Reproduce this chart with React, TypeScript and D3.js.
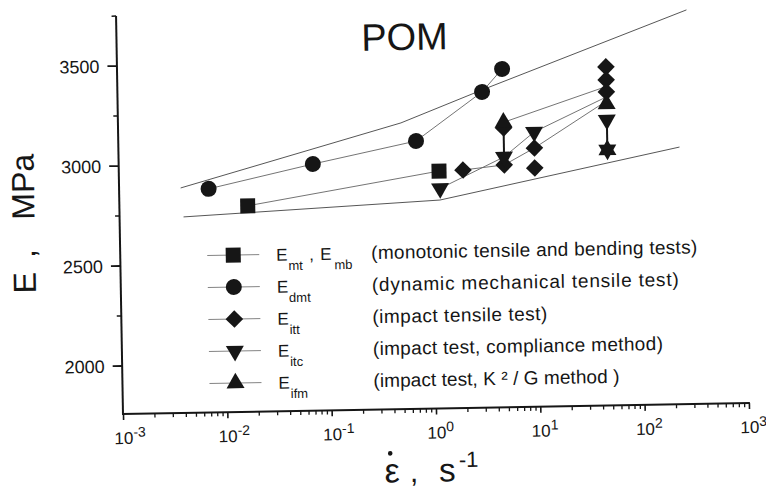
import React from 'react';
import * as d3 from 'd3';

type Pt = { x: number; e: number };

// ---- axis data ----
const yMajorTicks = [2000, 2500, 3000, 3500];
const yMinorTicks = [2250, 2750, 3250, 3750];
const xDecadeExponents = [-3, -2, -1, 0, 1, 2, 3];
const xMinorMultipliers = [2, 3, 4, 5, 6, 7, 8, 9];

// ---- series points (strain rate s^-1, modulus MPa) ----
const squarePts: Pt[] = [
  { x: 0.0168, e: 2790 },
  { x: 1.16, e: 2947 },
];
const circlePts: Pt[] = [
  { x: 0.00713, e: 2878 },
  { x: 0.0718, e: 2993 },
  { x: 0.706, e: 3099 },
  { x: 3.09, e: 3339 },
  { x: 4.85, e: 3452 },
];
const diamondPts: Pt[] = [
  { x: 1.97, e: 2950 },
  { x: 4.9, e: 3157 },
  { x: 4.9, e: 2972 },
  { x: 9.6, e: 3054 },
  { x: 9.6, e: 2954 },
  { x: 48, e: 3453 },
  { x: 48, e: 3388 },
  { x: 48, e: 3328 },
];
const downTriPts: Pt[] = [
  { x: 1.18, e: 2860 },
  { x: 4.9, e: 3012 },
  { x: 9.6, e: 3134 },
  { x: 48, e: 3188 },
  { x: 48, e: 3038 },
];
const upTriPts: Pt[] = [
  { x: 4.9, e: 3185 },
  { x: 48, e: 3268 },
  { x: 48, e: 3038 },
];

// ---- connecting lines ----
const squareLine: Pt[] = squarePts;
const circleLine: Pt[] = circlePts;
const diamondLine: Pt[] = [
  { x: 1.97, e: 2950 },
  { x: 4.9, e: 2972 },
  { x: 9.6, e: 3054 },
  { x: 48, e: 3283 },
];
const downTriLine: Pt[] = [
  { x: 1.18, e: 2860 },
  { x: 4.9, e: 3012 },
  { x: 9.6, e: 3134 },
  { x: 48, e: 3303 },
];
const upTriLine: Pt[] = [
  { x: 4.9, e: 3185 },
  { x: 48, e: 3355 },
];
const upperEnvelope: Pt[] = [
  { x: 0.00385, e: 2885 },
  { x: 0.51, e: 3191 },
  { x: 3.1, e: 3349 },
  { x: 290, e: 3731 },
];
const lowerEnvelope: Pt[] = [
  { x: 0.00406, e: 2740 },
  { x: 1.17, e: 2802 },
  { x: 236, e: 3046 },
];
const rangeBars = [
  { x: 4.9, lo: 3012, hi: 3185 },
  { x: 48, lo: 3038, hi: 3188 },
];

// ---- legend ----
const legendSymbols = ['square', 'circle', 'diamond', 'down', 'up'];
const legendSubs = ['mt', 'dmt', 'itt', 'itc', 'ifm'];
const legendDescs = [
  '(monotonic tensile and bending tests)',
  '(dynamic mechanical tensile test)',
  '(impact tensile test)',
  '(impact test, compliance method)',
  '(impact test, K \u00B2 / G method )',
];
const legendDescWidths = [326, 307, 175, 290, 246];

const FONT = "'Liberation Sans', Arial, Helvetica, sans-serif";
const INK = '#161616';

const X0 = 123.5, X1 = 749.5, Y0 = 414, Y1 = 16;

function symbolPath(kind: string): { d: string; rot: number } {
  switch (kind) {
    case 'square':
      return { d: d3.symbol().type(d3.symbolSquare).size(225)() as string, rot: 0 };
    case 'circle':
      return { d: d3.symbol().type(d3.symbolCircle).size(201)() as string, rot: 0 };
    case 'diamond':
      return { d: d3.symbol().type(d3.symbolSquare).size(155)() as string, rot: 45 };
    case 'down':
      return { d: d3.symbol().type(d3.symbolTriangle).size(140)() as string, rot: 180 };
    default:
      return { d: d3.symbol().type(d3.symbolTriangle).size(140)() as string, rot: 0 };
  }
}

function Marker({ kind, cx, cy }: { kind: string; cx: number; cy: number }) {
  const s = symbolPath(kind);
  return <path d={s.d} transform={`translate(${cx},${cy}) rotate(${s.rot})`} fill={INK} />;
}

export default function App() {
  const x = d3.scaleLog().domain([1e-3, 1e3]).range([X0, X1]);
  const y = d3.scaleLinear().domain([1760, 3750]).range([Y0, Y1]);
  const line = d3.line<Pt>().x((d) => x(d.x)).y((d) => y(d.e));

  const minorX: number[] = [];
  xDecadeExponents.slice(0, -1).forEach((p) =>
    xMinorMultipliers.forEach((m) => minorX.push(m * Math.pow(10, p)))
  );

  const series: { kind: string; pts: Pt[] }[] = [
    { kind: 'square', pts: squarePts },
    { kind: 'circle', pts: circlePts },
    { kind: 'diamond', pts: diamondPts },
    { kind: 'down', pts: downTriPts },
    { kind: 'up', pts: upTriPts },
  ];

  const legendX = 236;
  const legendY0 = 257;
  const legendDy = 32;

  return (
    <svg
      width={766}
      height={499}
      viewBox="0 0 766 499"
      style={{ position: 'absolute', left: 0, top: 0, background: '#fff' }}
      fontFamily={FONT}
    >
      <rect x={0} y={0} width={766} height={499} fill="#fff" />
      <g transform={`rotate(-1, ${X0 - 0.5}, ${Y0})`}>
        {/* title */}
        <text x={411} y={55} fontSize={38} textAnchor="middle" fill={INK}>
          POM
        </text>

        {/* envelope & series lines */}
        {[upperEnvelope, lowerEnvelope].map((pts, i) => (
          <path key={'env' + i} d={line(pts) as string} fill="none" stroke="#444" strokeWidth={0.9} />
        ))}
        {[squareLine, circleLine, diamondLine, downTriLine, upTriLine].map((pts, i) => (
          <path key={'sl' + i} d={line(pts) as string} fill="none" stroke="#666" strokeWidth={0.9} />
        ))}

        {/* range bars */}
        {rangeBars.map((r, i) => (
          <line key={'rb' + i} x1={x(r.x)} x2={x(r.x)} y1={y(r.lo)} y2={y(r.hi)} stroke={INK} strokeWidth={2} />
        ))}

        {/* markers */}
        {series.map((s) =>
          s.pts.map((p, i) => <Marker key={s.kind + i} kind={s.kind} cx={x(p.x)} cy={y(p.e)} />)
        )}

        {/* y axis */}
        <line x1={X0 - 0.5} x2={X0 - 0.5} y1={Y1} y2={Y0 + 1} stroke={INK} strokeWidth={2} />
        {yMajorTicks.map((t) => (
          <g key={'ym' + t}>
            <line x1={X0 - 10} x2={X0 - 0.5} y1={y(t)} y2={y(t)} stroke={INK} strokeWidth={1.8} />
            <text x={X0 - 18} y={y(t) + 6.5} fontSize={18} textAnchor="end" fill={INK}>
              {t}
            </text>
          </g>
        ))}
        {yMinorTicks.map((t) => (
          <line key={'yn' + t} x1={X0 - 5} x2={X0 - 0.5} y1={y(t)} y2={y(t)} stroke={INK} strokeWidth={1.5} />
        ))}

        {/* x axis */}
        <line x1={X0 - 1.5} x2={X1 + 0.5} y1={Y0} y2={Y0} stroke={INK} strokeWidth={2} />
        {xDecadeExponents.map((p) => {
          const v = Math.pow(10, p);
          const px = x(v);
          return (
            <g key={'xm' + p}>
              <line x1={px} x2={px} y1={Y0} y2={Y0 + 6} stroke={INK} strokeWidth={1.6} />
              <text x={px} y={Y0 + 30} fontSize={17} textAnchor="middle" fill={INK}>
                10
              </text>
              <text x={px + 9.5} y={Y0 + 23} fontSize={14} textAnchor="start" fill={INK}>
                {p < 0 ? '-' + Math.abs(p) : String(p)}
              </text>
            </g>
          );
        })}
        {minorX.map((v, i) => (
          <line key={'xn' + i} x1={x(v)} x2={x(v)} y1={Y0} y2={Y0 + 4} stroke={INK} strokeWidth={1.3} />
        ))}

        {/* y title */}
        <g fontSize={32} fill={INK}>
          <text transform="translate(38,281) rotate(-90)" textAnchor="middle">E</text>
          <text transform="translate(38,252) rotate(-90)" textAnchor="middle">,</text>
          <text transform="translate(38,185) rotate(-90)" textAnchor="middle">MPa</text>
        </g>

        {/* x title */}
        <g fill={INK}>
          <text x={391} y={487} fontSize={34} textAnchor="middle">{'\u03B5'}</text>
          <circle cx={389.5} cy={458} r={2.3} fill={INK} />
          <text x={413} y={487} fontSize={30} textAnchor="middle">,</text>
          <text x={438} y={487} fontSize={33} textAnchor="start">s</text>
          <text x={458} y={473} fontSize={22} textAnchor="start">-1</text>
        </g>

        {/* legend */}
        {legendSymbols.map((k, i) => {
          const cy = legendY0 + i * legendDy;
          return (
            <g key={'lg' + i} fill={INK}>
              <line x1={legendX - 26} x2={legendX + 26} y1={cy} y2={cy} stroke="#777" strokeWidth={0.9} />
              <Marker kind={k} cx={legendX} cy={cy} />
              <text x={279} y={cy + 6.5} fontSize={17}>E</text>
              <text x={291} y={cy + 16} fontSize={13}>{legendSubs[i]}</text>
              {i === 0 && (
                <>
                  <text x={312} y={cy + 6.5} fontSize={17}>,</text>
                  <text x={323} y={cy + 6.5} fontSize={17}>E</text>
                  <text x={337} y={cy + 16} fontSize={13}>mb</text>
                </>
              )}
              <text
                x={374}
                y={cy + 6.5}
                fontSize={19}
                textLength={legendDescWidths[i]}
                lengthAdjust="spacing"
              >
                {legendDescs[i]}
              </text>
            </g>
          );
        })}
      </g>
    </svg>
  );
}
